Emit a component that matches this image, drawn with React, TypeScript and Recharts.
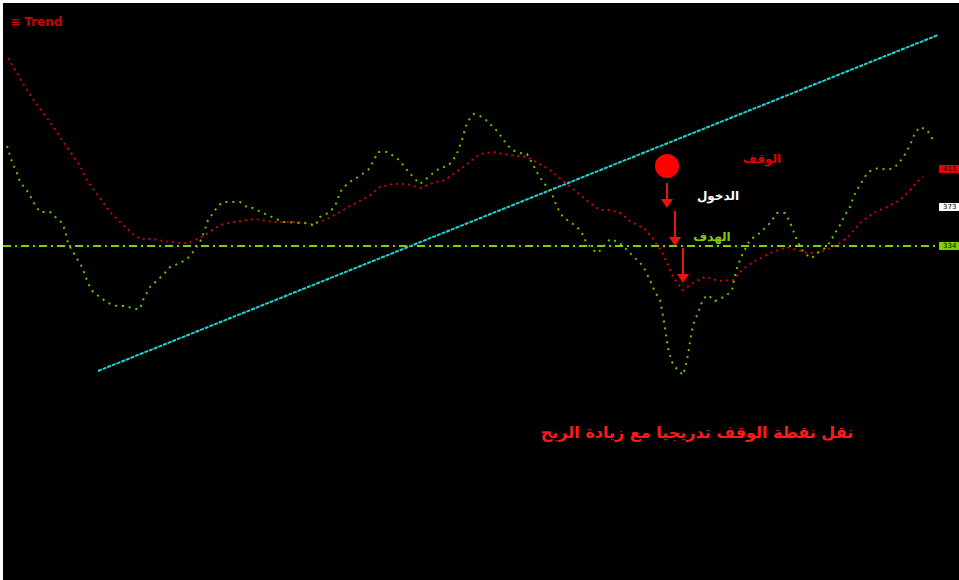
import React from "react";
import { LineChart, Line, XAxis, YAxis, ReferenceLine, ReferenceDot } from "recharts";

// Bar index (time) and level values
const slowX = [5,22,32,47,64,77,85,97,107,120,130,137,150,160,177,186,194,202,217,230,252,270,290,310,324,337,347,359,367,377,390,404,417,430,442,460,477,490,500,514,524,544,554,570,587,597,607,617,627,642,650,659,665,670,680,687,697,702,717,730,740,750,760,767,784,794,804,814,820,827,837,847,857,870,884,897,905,916,920];
const slowY = [522,493,478,458,433,414,398,382,368,355,346,341,341,339,337,337,341,345,355,358,361,358,358,356,361,368,374,380,385,393,396,396,392,397,400,413,426,428,426,424,423,412,404,391,377,370,370,367,359,351,341,328,315,303,290,295,301,303,299,300,311,318,323,327,333,330,327,327,329,332,337,345,357,367,373,380,388,400,403];

const fastX = [4,9,14,17,25,32,37,47,59,62,65,70,79,85,90,105,114,124,130,137,140,147,160,167,177,184,190,197,202,204,215,220,237,245,250,260,280,302,312,317,327,334,337,345,355,365,370,375,384,394,400,404,411,417,429,437,445,453,459,463,467,471,477,483,495,502,509,517,524,529,536,544,549,554,560,567,573,579,583,590,595,607,615,617,640,647,652,657,659,662,665,669,672,680,682,685,687,690,695,700,705,712,717,724,729,731,734,737,740,747,757,767,774,782,787,790,794,799,807,810,817,822,827,834,837,842,847,850,855,860,865,875,885,892,900,907,912,917,924,930];
const fastY = [434,418,407,398,388,375,368,368,357,350,337,328,313,297,288,277,274,274,271,271,280,293,305,313,317,321,328,338,350,358,374,378,378,372,372,367,358,357,354,363,368,378,388,397,403,410,418,428,428,422,415,410,402,396,406,412,414,424,440,454,462,466,464,460,448,438,430,427,426,417,404,393,386,373,363,358,354,347,338,330,327,341,338,337,314,300,288,280,270,252,232,218,213,205,212,225,238,255,267,281,285,279,281,285,290,300,312,320,327,340,347,357,367,367,358,350,340,330,322,323,329,332,338,350,355,365,373,382,392,400,408,412,410,413,422,435,447,453,450,440];

const trendX = [95, 935];
const trendY = [209, 545];

const targetLevel = 334;
const entryLevel = 373;
const stopLevel = 411;

const signalX = 664;
const signalY = 414;
const arrowsFrom = [[664, 397], [672, 369], [680, 332]];
const arrowsTo = [[664, 372], [672, 334], [680, 297]];

const titleText = "≡ Trend";
const stopText = "الوقف";
const entryText = "الدخول";
const targetText = "الهدف";
const noteText = "نقل نقطة الوقف تدريجيا مع زيادة الربح";

const slowData = slowX.map((x, i) => ({ x, v: slowY[i] }));
const fastData = fastX.map((x, i) => ({ x, v: fastY[i] }));
const trendData = trendX.map((x, i) => ({ x, v: trendY[i] }));

const W = 956;
const H = 577;
const AR = "'DejaVu Sans', sans-serif";

const textShape = (text: string, color: string, size: number, anchor: string, weight = "bold") => (p: any) => (
  <text x={p.cx} y={p.cy} fill={color} fontSize={size} fontFamily={AR} fontWeight={weight} textAnchor={anchor} dominantBaseline="central">
    {text}
  </text>
);

const tagShape = (color: string, label: string) => (p: any) => (
  <g>
    <rect x={p.cx - 10} y={p.cy - 4} width={20} height={8} fill={color} />
    <text x={p.cx - 6} y={p.cy} fill="#000" fontSize={7} fontFamily={AR} dominantBaseline="central">{label}</text>
  </g>
);

const arrowShape = (p: any) => {
  const { x1, y1, y2 } = p;
  const x = Number(x1);
  const yTop = Number(y1);
  const yTip = Number(y2);
  return (
    <g>
      <line x1={x} y1={yTop} x2={x} y2={yTip - 8} stroke="#ee1111" strokeWidth={2} />
      <polygon points={`${x - 6},${yTip - 9} ${x + 6},${yTip - 9} ${x},${yTip}`} fill="#ee1111" />
    </g>
  );
};

export default function App() {
  return (
    <div style={{ position: "absolute", left: 3, top: 3, width: W, height: H, background: "#000" }}>
      <LineChart width={W} height={H} margin={{ top: 0, right: 0, bottom: 0, left: 0 }}>
        <XAxis type="number" dataKey="x" domain={[0, W]} hide allowDataOverflow />
        <YAxis type="number" domain={[0, H]} hide allowDataOverflow />
        <ReferenceLine y={targetLevel} stroke="#7fd000" strokeWidth={2} strokeDasharray="8 4 2 4" />
        <Line data={trendData} dataKey="v" stroke="#1ed4d4" strokeWidth={2} strokeDasharray="4 1" dot={false} isAnimationActive={false} />
        <Line data={slowData} dataKey="v" stroke="#d00000" strokeWidth={2} strokeDasharray="2 4" dot={false} isAnimationActive={false} />
        <Line data={fastData} dataKey="v" stroke="#66c400" strokeWidth={2} strokeDasharray="2 5" dot={false} isAnimationActive={false} />
        <ReferenceDot x={signalX} y={signalY} r={12} fill="#ff0000" stroke="none" />
        {arrowsFrom.map((a, i) => (
          <ReferenceLine key={i} segment={[{ x: a[0], y: a[1] }, { x: arrowsTo[i][0], y: arrowsTo[i][1] }]} shape={arrowShape} />
        ))}
        <ReferenceDot x={759} y={421} r={1} shape={textShape(stopText, "#e00000", 12, "middle")} />
        <ReferenceDot x={715} y={384} r={1} shape={textShape(entryText, "#ffffff", 12, "middle")} />
        <ReferenceDot x={709} y={343} r={1} shape={textShape(targetText, "#7fd000", 12, "middle")} />
        <ReferenceDot x={694} y={148} r={1} shape={textShape(noteText, "#ff1a1a", 16, "middle")} />
        <ReferenceDot x={7} y={558} r={1} shape={textShape(titleText, "#d00000", 12, "start")} />
        <ReferenceDot x={946} y={stopLevel} r={1} shape={tagShape("#ee0000", String(stopLevel))} />
        <ReferenceDot x={946} y={entryLevel} r={1} shape={tagShape("#ffffff", String(entryLevel))} />
        <ReferenceDot x={946} y={targetLevel} r={1} shape={tagShape("#7fd000", String(targetLevel))} />
      </LineChart>
    </div>
  );
}
